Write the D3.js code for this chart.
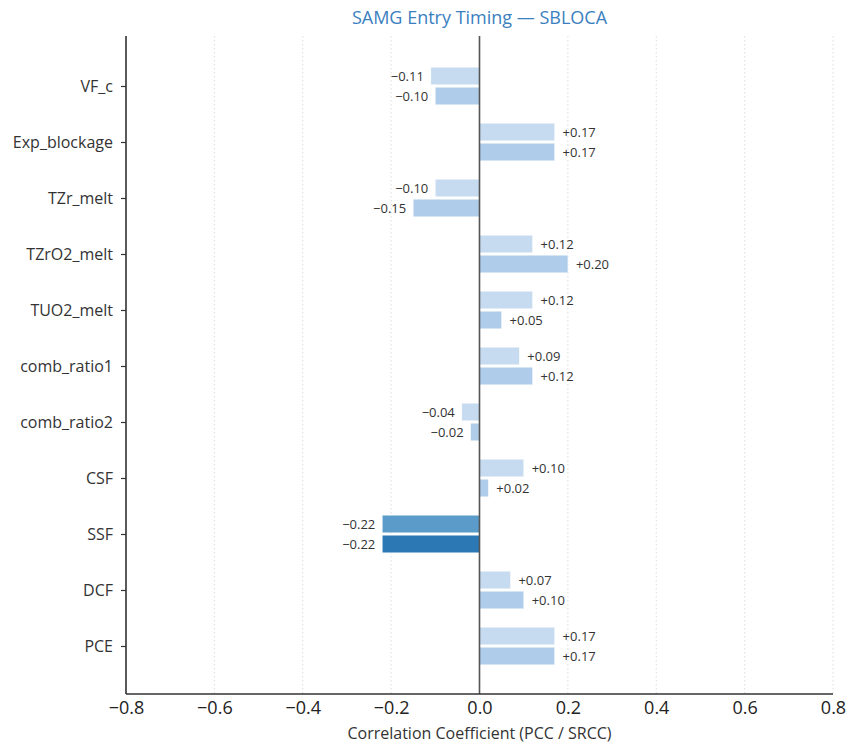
<!DOCTYPE html>
<html><head><meta charset="utf-8">
<script src="https://cdn.jsdelivr.net/npm/d3@7"></script>
<style>body{margin:0;background:#fff;} svg{display:block;font-family:"Open Sans","Noto Sans",sans-serif;}</style>
</head><body><svg id="c" width="848" height="745"></svg>
<script>
const categories = ["VF_c","Exp_blockage","TZr_melt","TZrO2_melt","TUO2_melt","comb_ratio1","comb_ratio2","CSF","SSF","DCF","PCE"];
const pccValues  = [-0.11, 0.17, -0.10, 0.12, 0.12, 0.09, -0.04, 0.10, -0.22, 0.07, 0.17];
const srccValues = [-0.10, 0.17, -0.15, 0.20, 0.05, 0.12, -0.02, 0.02, -0.22, 0.10, 0.17];
const significant = [false,false,false,false,false,false,false,false,true,false,false];
const xTicks = [-0.8,-0.6,-0.4,-0.2,0.0,0.2,0.4,0.6,0.8];
const title = "SAMG Entry Timing — SBLOCA";
const xLabel = "Correlation Coefficient (PCC / SRCC)";

const svg = d3.select("#c");
const L = 126, R = 833, T = 36, B = 694;
const x = d3.scaleLinear().domain([-0.8, 0.8]).range([L, R]);
const y = d3.scalePoint().domain(categories).range([86, 646]);
const barH = 17.5, gap = 2.5;

// grid
svg.append("g").selectAll("line").data(xTicks).join("line")
  .attr("x1", d => x(d)).attr("x2", d => x(d)).attr("y1", T).attr("y2", B)
  .attr("stroke", "#dcdcdc").attr("stroke-width", 1).attr("stroke-dasharray", "1.5,2.5");

const colors = {
  pcc: ["#c6dbef", "#5b9bc9"],
  srcc: ["#afcdea", "#2c78b4"]
};
const rows = categories.map((c, i) => ({c, i, p: pccValues[i], s: srccValues[i], sig: significant[i]}));
const bars = [];
rows.forEach(r => {
  bars.push({c: r.c, v: r.p, y0: y(r.c) - gap/2 - barH, col: colors.pcc[r.sig ? 1 : 0]});
  bars.push({c: r.c, v: r.s, y0: y(r.c) + gap/2, col: colors.srcc[r.sig ? 1 : 0]});
});
svg.append("g").selectAll("rect").data(bars).join("rect")
  .attr("x", d => Math.min(x(0), x(d.v))).attr("width", d => Math.abs(x(d.v) - x(0)))
  .attr("y", d => d.y0).attr("height", barH).attr("fill", d => d.col)
  .attr("stroke", "#ffffff").attr("stroke-width", 0.6).attr("stroke-opacity", 0.6);

const fmt = v => (v >= 0 ? "+" : "\u2212") + Math.abs(v).toFixed(2);
svg.append("g").selectAll("text").data(bars).join("text")
  .attr("x", d => d.v >= 0 ? x(d.v) + 8 : x(d.v) - 7)
  .attr("y", d => d.y0 + barH/2)
  .attr("dy", "0.35em")
  .attr("text-anchor", d => d.v >= 0 ? "start" : "end")
  .attr("font-size", 13).attr("fill", "#333")
  .text(d => fmt(d.v));

// zero line
svg.append("line").attr("x1", x(0)).attr("x2", x(0)).attr("y1", T).attr("y2", B)
  .attr("stroke", "#555").attr("stroke-width", 1.6);

// left axis
const ya = d3.axisLeft(y).tickSize(5).tickPadding(8);
const gy = svg.append("g").attr("transform", `translate(${L},0)`).call(ya);
gy.select(".domain").remove();
gy.append("line").attr("x1",0).attr("x2",0).attr("y1",T).attr("y2",B).attr("stroke","#333").attr("stroke-width",1.6);
gy.selectAll(".tick line").attr("stroke","#333").attr("stroke-width",1.2);
gy.selectAll(".tick text").attr("font-size", 16).attr("fill","#333").attr("font-family","'Open Sans',sans-serif");

// bottom axis
const xa = d3.axisBottom(x).tickValues(xTicks).tickSize(0).tickPadding(7).tickFormat(d3.format(".1f"));
const gx = svg.append("g").attr("transform", `translate(0,${B})`).call(xa);
gx.select(".domain").remove();
gx.append("line").attr("x1",L).attr("x2",R).attr("y1",0).attr("y2",0).attr("stroke","#333").attr("stroke-width",1.6);
gx.selectAll(".tick text").attr("font-size", 18).attr("fill","#222").attr("font-family","'Open Sans',sans-serif");

svg.append("text").attr("x", (L+R)/2).attr("y", 739).attr("text-anchor","middle")
  .attr("font-size", 16).attr("fill","#333").text(xLabel);
svg.append("text").attr("x", (L+R)/2).attr("y", 24).attr("text-anchor","middle")
  .attr("font-size", 18).attr("fill","#3a80c0").text(title);
</script></body></html>
